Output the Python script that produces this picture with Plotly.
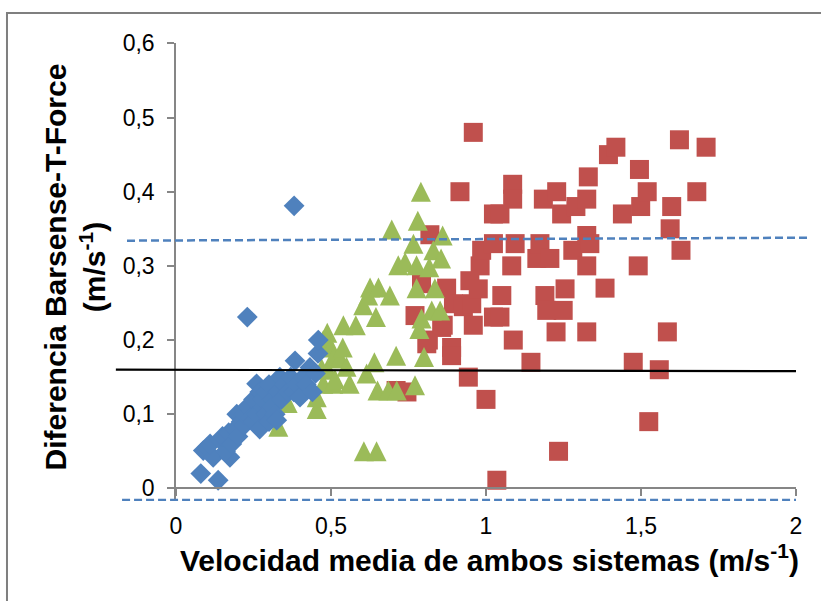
import plotly.graph_objects as go

# ---------------- data ----------------
blue_x = [0.08, 0.136, 0.088, 0.10, 0.12, 0.11, 0.142, 0.174, 0.16, 0.15, 0.17, 0.18, 0.19, 0.196, 0.20,
          0.21, 0.22, 0.23, 0.22, 0.23, 0.24, 0.25, 0.25, 0.26, 0.26, 0.27, 0.27, 0.28, 0.28, 0.29,
          0.29, 0.30, 0.30, 0.31, 0.31, 0.32, 0.325, 0.33, 0.335, 0.34, 0.35, 0.36, 0.37, 0.38, 0.381,
          0.384, 0.39, 0.40, 0.41, 0.42, 0.432, 0.44, 0.458, 0.459, 0.45]
blue_y = [0.02, 0.011, 0.051, 0.055, 0.042, 0.06, 0.065, 0.042, 0.05, 0.07, 0.075, 0.06, 0.08, 0.10, 0.07,
          0.09, 0.085, 0.231, 0.10, 0.11, 0.095, 0.09, 0.12, 0.141, 0.10, 0.13, 0.08, 0.11, 0.12, 0.10,
          0.13, 0.09, 0.14, 0.12, 0.11, 0.10, 0.092, 0.13, 0.15, 0.12, 0.14, 0.13, 0.15, 0.13, 0.381,
          0.172, 0.14, 0.123, 0.15, 0.14, 0.163, 0.13, 0.182, 0.20, 0.155]

green_x = [0.33, 0.36, 0.454, 0.454, 0.47, 0.475, 0.475, 0.488, 0.49, 0.50, 0.507, 0.508, 0.513, 0.53,
           0.538, 0.54, 0.55, 0.56, 0.58, 0.604, 0.606, 0.615, 0.62, 0.626, 0.64, 0.645, 0.647, 0.65,
           0.653, 0.685, 0.69, 0.696, 0.71, 0.712, 0.717, 0.739, 0.766, 0.771, 0.776, 0.776, 0.78,
           0.785, 0.79, 0.792, 0.80, 0.817, 0.825, 0.83, 0.835, 0.852, 0.855, 0.86]
green_y = [0.083, 0.115, 0.107, 0.123, 0.162, 0.141, 0.20, 0.21, 0.16, 0.19, 0.141, 0.177, 0.147, 0.175,
           0.19, 0.22, 0.164, 0.141, 0.22, 0.247, 0.05, 0.155, 0.26, 0.271, 0.17, 0.231, 0.05, 0.132,
           0.271, 0.132, 0.26, 0.349, 0.179, 0.132, 0.301, 0.305, 0.33, 0.139, 0.301, 0.27, 0.361,
           0.215, 0.40, 0.229, 0.177, 0.298, 0.24, 0.321, 0.27, 0.24, 0.31, 0.341]

red_x = [0.71, 0.745, 0.771, 0.792, 0.809, 0.814, 0.819, 0.857, 0.862, 0.873, 0.889, 0.889, 0.895,
         0.916, 0.927, 0.943, 0.948, 0.954, 0.959, 0.959, 0.975, 0.981, 0.986, 1.00, 1.024, 1.024,
         1.024, 1.035, 1.045, 1.045, 1.051, 1.083, 1.086, 1.086, 1.088, 1.094, 1.145, 1.164, 1.174,
         1.185, 1.19, 1.196, 1.206, 1.226, 1.228, 1.234, 1.244, 1.249, 1.255, 1.28, 1.29, 1.325,
         1.325, 1.325, 1.325, 1.33, 1.335, 1.384, 1.395, 1.419, 1.44, 1.475, 1.491, 1.495, 1.499,
         1.52, 1.525, 1.559, 1.585, 1.594, 1.599, 1.624, 1.629, 1.68, 1.71]
red_y = [0.132, 0.13, 0.233, 0.276, 0.195, 0.20, 0.342, 0.217, 0.22, 0.27, 0.19, 0.179, 0.249,
         0.40, 0.245, 0.15, 0.28, 0.249, 0.22, 0.48, 0.269, 0.30, 0.321, 0.12, 0.37, 0.33,
         0.231, 0.011, 0.37, 0.231, 0.26, 0.30, 0.41, 0.39, 0.20, 0.33, 0.17, 0.31, 0.33,
         0.39, 0.26, 0.24, 0.31, 0.211, 0.40, 0.05, 0.37, 0.24, 0.269, 0.321, 0.38, 0.39,
         0.30, 0.211, 0.341, 0.42, 0.33, 0.27, 0.45, 0.46, 0.37, 0.17, 0.30, 0.43, 0.38,
         0.40, 0.09, 0.16, 0.211, 0.35, 0.38, 0.47, 0.321, 0.40, 0.46]

# reference lines (value at left end, value at right end)
mean_line = [0.160, 0.158]
upper_loa = [0.334, 0.338]
lower_loa = [-0.0155, -0.0155]

x_ticks = [0, 0.5, 1, 1.5, 2]
y_ticks = [0, 0.1, 0.2, 0.3, 0.4, 0.5, 0.6]

X_RANGE = [0, 2]
Y_RANGE = [-0.017, 0.6005]

BLUE = "#4F81BD"
RED = "#C0504D"
GREEN = "#9BBB59"
AXIS = "#868686"
FONT = "Liberation Sans, Arial, sans-serif"

fig = go.Figure()
fig.add_trace(go.Scatter(x=red_x, y=red_y, mode="markers", cliponaxis=False,
                         marker=dict(symbol="square", size=19, color=RED, line=dict(width=0))))
# upward triangle of equal width and height, centred on the point
fig.add_trace(go.Scatter(x=green_x, y=green_y, mode="markers", cliponaxis=False,
                         marker=dict(symbol="arrow-down", angle=180, size=20, standoff=10,
                                     color=GREEN, line=dict(width=0))))
fig.add_trace(go.Scatter(x=blue_x, y=blue_y, mode="markers", cliponaxis=False,
                         marker=dict(symbol="diamond", size=16, color=BLUE, line=dict(width=0))))

# reference lines (extend horizontally past the plot area like the original)
fig.add_shape(type="line", xref="paper", yref="y", x0=-0.079, x1=1.018,
              y0=upper_loa[0], y1=upper_loa[1], line=dict(color=BLUE, width=2.5, dash="8px,4px"))
fig.add_shape(type="line", xref="paper", yref="y", x0=-0.087, x1=1.0,
              y0=lower_loa[0], y1=lower_loa[1], line=dict(color=BLUE, width=2.5, dash="8px,4px"))
fig.add_shape(type="line", xref="paper", yref="y", x0=-0.097, x1=1.0,
              y0=mean_line[0], y1=mean_line[1], line=dict(color="black", width=2.2))

# outer chart border
fig.add_shape(type="rect", xref="paper", yref="paper", x0=-0.2726, x1=1.2, y0=-0.4, y1=1.0655,
              line=dict(color="#7F7F7F", width=2), fillcolor="rgba(0,0,0,0)", layer="below")

x_zero_pos = (0 - Y_RANGE[0]) / (Y_RANGE[1] - Y_RANGE[0])

fig.update_layout(
    width=821, height=601,
    margin=dict(l=176, r=25, t=43, b=100),
    paper_bgcolor="white", plot_bgcolor="white",
    showlegend=False,
    separators=", ",
    font=dict(family=FONT, color="black"),
    xaxis=dict(range=X_RANGE, tickvals=x_ticks, showgrid=False, zeroline=False,
               showline=True, linecolor=AXIS, linewidth=1.5,
               ticks="outside", ticklen=7, tickcolor=AXIS, tickwidth=1.5,
               anchor="free", position=x_zero_pos,
               tickfont=dict(size=23, family=FONT, color="black"), ticklabelstandoff=10),
    yaxis=dict(range=Y_RANGE, tickvals=y_ticks, showgrid=False, zeroline=False,
               showline=True, linecolor=AXIS, linewidth=1.5,
               ticks="outside", ticklen=7, tickcolor=AXIS, tickwidth=1.5,
               tickfont=dict(size=23, family=FONT, color="black"), ticklabelstandoff=8),
)

fig.add_annotation(text="<b>Velocidad media de ambos sistemas (m/s<sup>-1</sup>)</b>",
                   xref="paper", yref="paper", x=0.506, y=-0.125, xanchor="center", yanchor="middle",
                   showarrow=False, font=dict(size=30, family=FONT, color="black"))
fig.add_annotation(text="<b>Diferencia Barsense-T-Force<br>(m/s<sup>-1</sup>)</b>",
                   xref="paper", yref="paper", x=-0.163, y=0.512, xanchor="center", yanchor="middle",
                   textangle=-90, showarrow=False, font=dict(size=30, family=FONT, color="black"))

fig.write_html("out.html")
